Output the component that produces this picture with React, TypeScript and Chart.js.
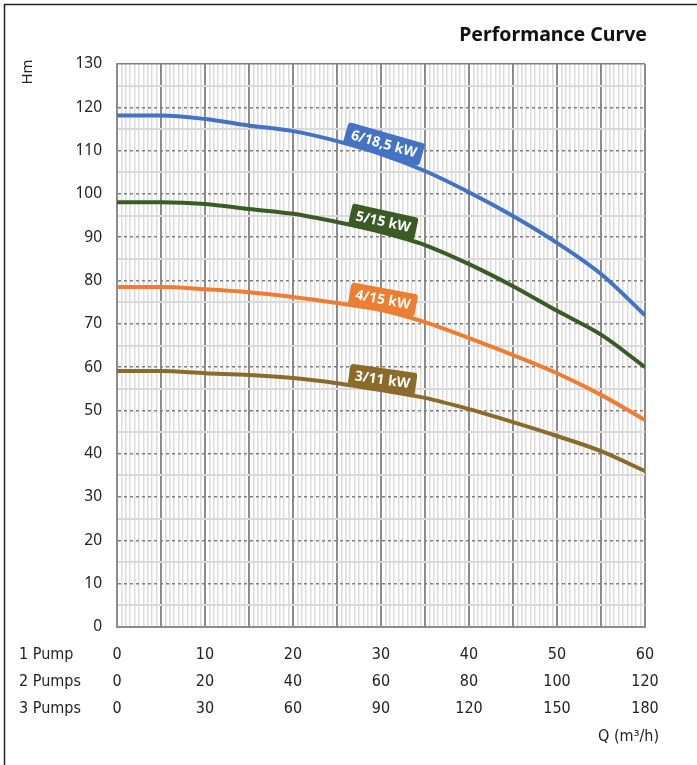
import React, { useEffect, useRef } from "react";
import { Chart, registerables } from "chart.js";

Chart.register(...registerables);

const Q = [0, 5, 10, 15, 20, 25, 30, 35, 40, 45, 50, 55, 60];
const H_6_185 = [118.1, 118.1, 117.3, 115.8, 114.5, 112.2, 109.2, 105.3, 100.4, 94.9, 88.7, 81.5, 72.0];
const H_5_15 = [98.1, 98.1, 97.7, 96.5, 95.4, 93.5, 91.2, 88.2, 83.8, 78.7, 73.0, 67.5, 60.0];
const H_4_15 = [78.5, 78.5, 78.0, 77.3, 76.2, 74.8, 73.2, 70.4, 66.7, 62.8, 58.6, 53.6, 47.8];
const H_3_11 = [59.1, 59.1, 58.6, 58.2, 57.5, 56.3, 54.7, 52.9, 50.3, 47.3, 44.1, 40.6, 36.0];

const SERIES_LABELS = ["6/18,5 kW", "5/15 kW", "4/15 kW", "3/11 kW"];
const SERIES_COLORS = ["#4472C4", "#3A5A26", "#ED7D31", "#8B6B2A"];
const PUMP_ROWS = ["1 Pump", "2 Pumps", "3 Pumps"];
const PUMP_MULT = [1, 2, 3];
const TITLE = "Performance Curve";
const Y_TITLE = "Hm";
const X_TITLE = "Q (m³/h)";

const W = 697;
const H = 765;
const LABEL_Q = 30;
const TABLE_FONT = "'Liberation Sans Narrow', 'DejaVu Sans Condensed', 'Noto Sans'";

export default function App() {
  const ref = useRef<HTMLCanvasElement | null>(null);

  useEffect(() => {
    const canvas = ref.current;
    if (!canvas) return;
    const series = [H_6_185, H_5_15, H_4_15, H_3_11];

    const decor = {
      id: "decor",
      beforeDraw(chart: any) {
        const ctx = chart.ctx;
        ctx.save();
        ctx.strokeStyle = "#222";
        ctx.lineWidth = 1.5;
        ctx.beginPath();
        ctx.moveTo(4.5, H);
        ctx.lineTo(4.5, 4.5);
        ctx.lineTo(W, 4.5);
        ctx.stroke();
        ctx.restore();
      },
      afterDraw(chart: any) {
        const ctx = chart.ctx;
        const area = chart.chartArea;
        ctx.save();
        ctx.fillStyle = "#111";
        ctx.font = "bold 19.5px 'Noto Sans'";
        ctx.textAlign = "right";
        ctx.textBaseline = "middle";
        ctx.fillText(TITLE, area.right + 2, 35);
        ctx.save();
        ctx.translate(28, 72);
        ctx.rotate(-Math.PI / 2);
        ctx.font = "15px 'Noto Sans'";
        ctx.fillStyle = "#222";
        ctx.textAlign = "center";
        ctx.fillText(Y_TITLE, 0, 0);
        ctx.restore();
        ctx.font = "16px " + TABLE_FONT;
        ctx.fillStyle = "#222";
        ctx.textAlign = "left";
        PUMP_ROWS.forEach((r, i) => {
          ctx.fillText(r, 19, area.bottom + 28 + i * 27);
        });
        ctx.textAlign = "right";
        ctx.fillText(X_TITLE, area.right + 14, area.bottom + 110);
        ctx.restore();
      },
      afterDatasetsDraw(chart: any) {
        const ctx = chart.ctx;
        const xs = chart.scales.x;
        const ys = chart.scales.y;
        const idx = Q.indexOf(LABEL_Q);
        series.forEach((s, k) => {
          const px = xs.getPixelForValue(Q[idx]);
          const py = ys.getPixelForValue(s[idx]);
          const x0 = xs.getPixelForValue(Q[idx - 1]);
          const y0 = ys.getPixelForValue(s[idx - 1]);
          const x1 = xs.getPixelForValue(Q[idx + 1]);
          const y1 = ys.getPixelForValue(s[idx + 1]);
          const ang = Math.atan2(y1 - y0, x1 - x0) * 0.85;
          ctx.save();
          ctx.translate(px, py);
          ctx.rotate(ang);
          ctx.font = "bold 14px 'Open Sans'";
          const tw = ctx.measureText(SERIES_LABELS[k]).width;
          const w = tw + 12;
          const h = 23;
          ctx.fillStyle = SERIES_COLORS[k];
          ctx.beginPath();
          (ctx as any).roundRect(-w / 2, -h + 1, w, h, 3);
          ctx.fill();
          ctx.fillStyle = "#fff";
          ctx.textAlign = "center";
          ctx.textBaseline = "middle";
          ctx.fillText(SERIES_LABELS[k], 0, -h / 2 + 1.5);
          ctx.restore();
        });
      },
    };

    const chart = new Chart(canvas, {
      type: "line",
      data: {
        datasets: series.map((s, k) => ({
          label: SERIES_LABELS[k],
          data: Q.map((q, i) => ({ x: q, y: s[i] })),
          borderColor: SERIES_COLORS[k],
          backgroundColor: SERIES_COLORS[k],
          borderWidth: 4,
          pointRadius: 0,
          tension: 0.4,
          cubicInterpolationMode: "monotone" as const,
        })),
      },
      options: {
        responsive: false,
        animation: false,
        layout: { padding: { left: 0, right: 52, top: 64, bottom: 0 } },
        plugins: {
          legend: { display: false },
          tooltip: { enabled: false },
          title: { display: false },
        },
        scales: {
          x: {
            type: "linear",
            min: 0,
            max: 60,
            afterFit(scale: any) {
              scale.height = 138;
            },
            ticks: {
              stepSize: 0.5,
              autoSkip: false,
              maxTicksLimit: 500,
              maxRotation: 0,
              padding: 14,
              color: "#222",
              font: { family: TABLE_FONT, size: 16, lineHeight: 27 / 16 },
              callback: (v: any) => {
                const n = Number(v);
                if (Math.abs(n % 10) < 1e-6) return PUMP_MULT.map((m) => String(n * m));
                return "";
              },
            },
            grid: {
              drawTicks: false,
              color: (c: any) => {
                const v = c.tick ? c.tick.value : 0;
                return Math.abs(v % 5) < 1e-6 ? "#8c8c8c" : "#dcdcdc";
              },
              lineWidth: (c: any) => {
                const v = c.tick ? c.tick.value : 0;
                return Math.abs(v % 5) < 1e-6 ? 2 : 1.5;
              },
            },
            border: { display: true, color: "#8c8c8c", width: 2 },
          },
          y: {
            type: "linear",
            min: 0,
            max: 130,
            afterFit(scale: any) {
              scale.width = 117;
            },
            ticks: {
              stepSize: 5,
              autoSkip: false,
              maxTicksLimit: 500,
              padding: 15,
              color: "#222",
              font: { family: "'Noto Sans'", size: 15.5 },
              callback: (v: any) => {
                const n = Number(v);
                return Math.abs(n % 10) < 1e-6 ? String(n) : "";
              },
            },
            grid: {
              drawTicks: false,
              color: (c: any) => {
                const v = c.tick ? c.tick.value : 0;
                return Math.abs(v % 10) < 1e-6 ? "#7f7f7f" : "#d9d9d9";
              },
              lineWidth: (c: any) => {
                const v = c.tick ? c.tick.value : 0;
                return Math.abs(v % 10) < 1e-6 ? 1.5 : 2;
              },
            },
            border: {
              display: true,
              color: "#8c8c8c",
              width: 2,
              dash: (c: any) => {
                if (!c.tick) return [];
                const v = c.tick.value;
                if (v === 130 || v === 0) return [];
                return Math.abs(v % 10) < 1e-6 ? [3, 3] : [];
              },
            },
          },
        },
      },
      plugins: [decor],
    } as any);

    return () => chart.destroy();
  }, []);

  return (
    <div style={{ position: "absolute", left: 0, top: 0, width: W, height: H, background: "#fff" }}>
      <canvas ref={ref} width={W} height={H} style={{ display: "block" }} />
    </div>
  );
}
